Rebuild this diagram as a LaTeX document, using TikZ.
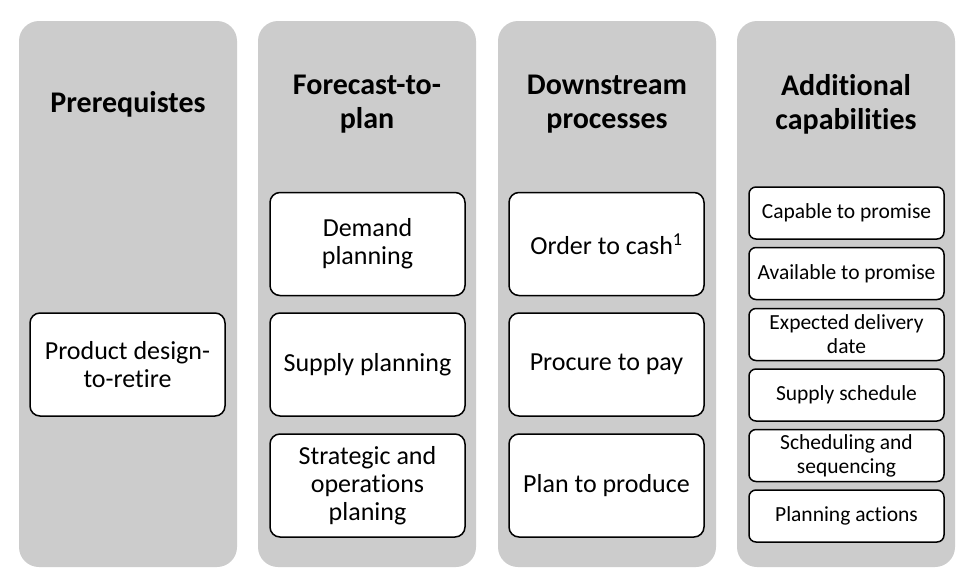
\documentclass[tikz,border=0pt]{standalone}
\usepackage{fontspec}
\setmainfont{Carlito}[Ligatures=NoCommon]
\usetikzlibrary{positioning}

\begin{document}
\begin{tikzpicture}[x=1pt,y=-1pt,
    column/.style={fill=gray!40, rounded corners=20pt, inner sep=0pt,
        minimum width=218pt, minimum height=546pt},
    heading/.style={font=\fontsize{30}{34}\selectfont\bfseries, align=center},
    bigbox/.style={draw, line width=1.5pt, fill=white, rounded corners=10pt,
        minimum width=195pt, minimum height=103pt, align=center,
        font=\fontsize{26}{28}\selectfont},
    smallbox/.style={draw, line width=1.5pt, fill=white, rounded corners=7pt,
        minimum width=195pt, minimum height=52pt, align=center,
        font=\fontsize{21.5}{24}\selectfont}]
        % Background
        \fill[white] (0,0) rectangle (978,584);
        \useasboundingbox (0,0) rectangle (978,584);
        % Columns
        \foreach \n/\x in {pre/128, fcst/367, down/607, add/846}
            \node[column] (\n) at (\x,294) {};
        % Headings
        \node[heading] (preT) at (128,104) {Prerequistes};
        \node[heading] (fcstT) at (367,104) {Forecast-to-\\plan};
        \node[heading] (downT) at (607,104) {Downstream\\processes};
        \node[heading] (addT) at (846,104) {Additional\\capabilities};
        % Prerequisites
        \node[bigbox] (design) at (127.5,364.5) {Product design-\\to-retire};
        % Forecast-to-plan
        \node[bigbox] (demand) at (367.5,244) {Demand\\planning};
        \node[bigbox] (supply) at (367.5,364.5) {Supply planning};
        \node[bigbox] (sop) at (367.5,485.5) {Strategic and\\operations\\planing};
        % Downstream processes
        \node[bigbox] (otc) at (606.5,244) {Order to cash\textsuperscript{1}};
        \node[bigbox] (ptp) at (606.5,364.5) {Procure to pay};
        \node[bigbox] (ptpr) at (606.5,485.5) {Plan to produce};
        % Additional capabilities
        \foreach \n/\y/\t in {ctp/213/Capable to promise,
                atp/273.5/Available to promise,
                edd/334.5/{Expected delivery\\date},
                sched/395/Supply schedule,
                seq/455.5/{Scheduling and\\sequencing},
                act/516/Planning actions}
            \node[smallbox] (\n) at (846.5,\y) {\t};
    \end{tikzpicture}
\end{document}
